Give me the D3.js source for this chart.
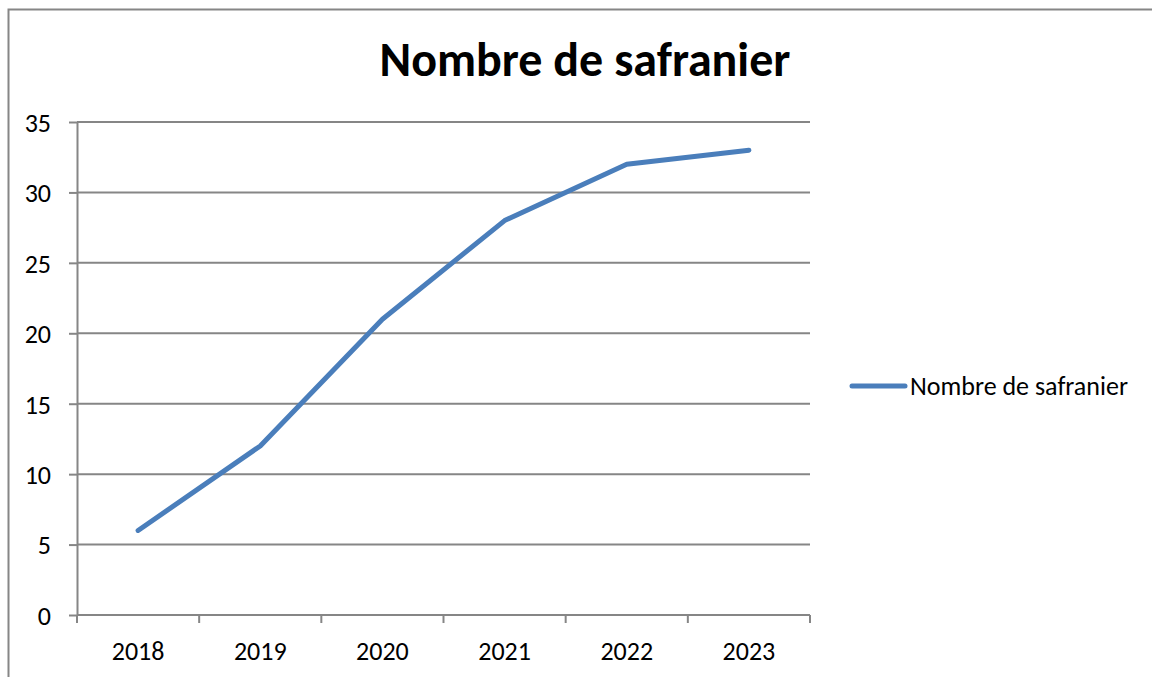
<!DOCTYPE html>
<html>
<head>
  <meta charset="utf-8" />
  <title>Nombre de safranier</title>
  <script src="https://d3js.org/d3.v7.min.js"></script>
  <style>
    body { margin: 0; background: #fff; }
    text { font-family: Carlito, Lato, "Liberation Sans", sans-serif; fill: #000; }
    .grid line { stroke: #868686; stroke-width: 2; }
    .axis path, .axis line { stroke: #868686; stroke-width: 2; }
  </style>
</head>
<body>
  <script type="text/javascript">
    // - - - - - DATA - - - - - //
    var years = ["2018", "2019", "2020", "2021", "2022", "2023"];
    var safraniers = [6, 12, 21, 28, 32, 33];
    var yTicks = [0, 5, 10, 15, 20, 25, 30, 35];
    var seriesName = "Nombre de safranier";

    var width = 1152, height = 677;
    var plot = {left: 77, right: 810, top: 122, bottom: 615};

    var svg = d3.select("body").append("svg")
        .attr("width", width)
        .attr("height", height);

    // outer chart frame (left + top edges visible)
    svg.append("path")
        .attr("d", "M8.5,677 L8.5,9.5 L1152,9.5")
        .attr("fill", "none")
        .attr("stroke", "#868686")
        .attr("stroke-width", 2);

    var x = d3.scaleBand()
        .domain(years)
        .range([plot.left, plot.right]);

    var y = d3.scaleLinear()
        .domain([0, 35])
        .range([plot.bottom, plot.top]);

    // horizontal gridlines
    svg.append("g")
        .attr("class", "grid")
        .selectAll("line")
        .data(yTicks.filter(function(d) { return d > 0; }))
      .enter().append("line")
        .attr("x1", plot.left)
        .attr("x2", plot.right)
        .attr("y1", function(d) { return y(d); })
        .attr("y2", function(d) { return y(d); });

    // y axis
    var yAxis = svg.append("g")
        .attr("class", "axis")
        .attr("transform", "translate(" + plot.left + ",0)")
        .call(d3.axisLeft(y).tickValues(yTicks).tickSize(8).tickPadding(18).tickSizeOuter(0));
    yAxis.selectAll("text").style("font-size", "26px").attr("dy", "0.36em");

    // x axis: ticks at band edges, labels at band centres
    var xAxis = svg.append("g")
        .attr("class", "axis")
        .attr("transform", "translate(0," + plot.bottom + ")");
    xAxis.append("line")
        .attr("x1", plot.left).attr("x2", plot.right);
    var edges = years.map(function(d) { return x(d); }).concat([plot.right]);
    xAxis.selectAll(".tk")
        .data(edges)
      .enter().append("line")
        .attr("class", "tk")
        .attr("x1", function(d) { return d; })
        .attr("x2", function(d) { return d; })
        .attr("y1", 0).attr("y2", 8);
    xAxis.selectAll(".lbl")
        .data(years)
      .enter().append("text")
        .attr("class", "lbl")
        .attr("x", function(d) { return x(d) + x.bandwidth() / 2; })
        .attr("y", 45)
        .attr("text-anchor", "middle")
        .style("font-size", "26px")
        .text(function(d) { return d; });

    // line
    var line = d3.line()
        .x(function(d, i) { return x(years[i]) + x.bandwidth() / 2; })
        .y(function(d) { return y(d); });

    svg.append("path")
        .datum(safraniers)
        .attr("d", line)
        .attr("fill", "none")
        .attr("stroke", "#4a7ebb")
        .attr("stroke-width", 5)
        .attr("stroke-linecap", "round")
        .attr("stroke-linejoin", "round");

    // title
    svg.append("text")
        .attr("x", 585)
        .attr("y", 76)
        .attr("text-anchor", "middle")
        .style("font-size", "48px")
        .style("font-weight", "bold")
        .text(seriesName);

    // legend
    var legend = svg.append("g").attr("transform", "translate(852,386)");
    legend.append("line")
        .attr("x1", 0).attr("x2", 53)
        .attr("stroke", "#4a7ebb")
        .attr("stroke-width", 5)
        .attr("stroke-linecap", "round");
    legend.append("text")
        .attr("x", 58)
        .attr("y", 9)
        .style("font-size", "26px")
        .text(seriesName);
  </script>
</body>
</html>
